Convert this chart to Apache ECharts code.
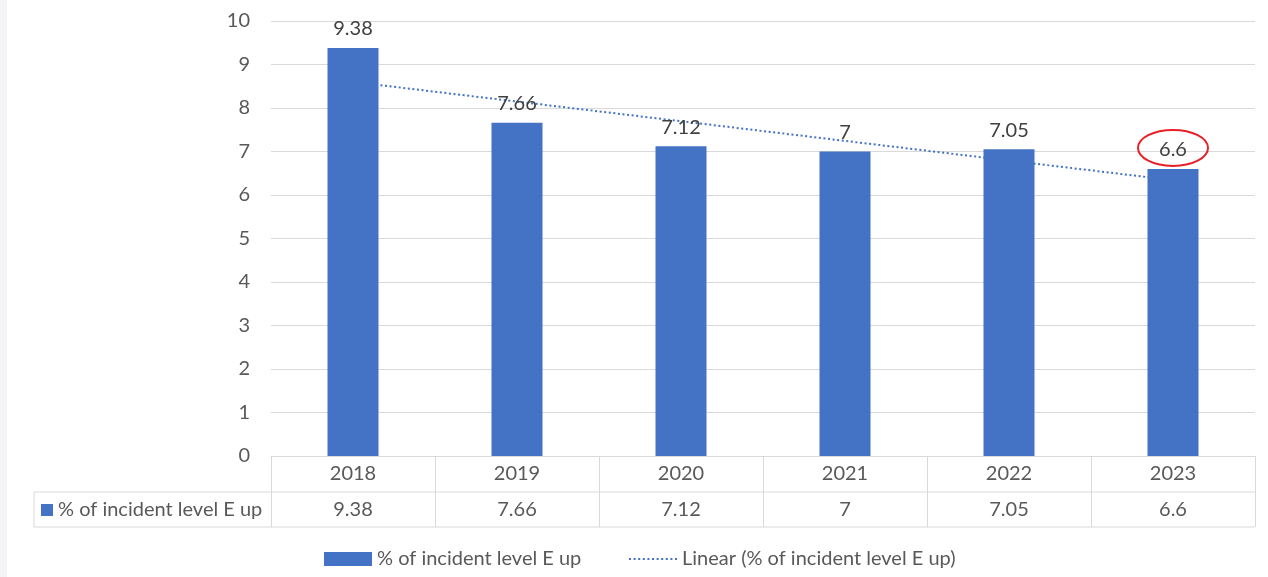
<!DOCTYPE html>
<html>
<head>
<meta charset="utf-8">
<script src="https://cdn.jsdelivr.net/npm/echarts@6/dist/echarts.min.js"></script>
<style>
  html, body { margin: 0; padding: 0; background: #fff; }
  #main { width: 1268px; height: 577px; }
</style>
</head>
<body>
<div id="main"></div>
<script>
// data
const years = ['2018', '2019', '2020', '2021', '2022', '2023']
const incidentPct = [9.38, 7.66, 7.12, 7, 7.05, 6.6]
// linear trend, only the two ends were read (middle left empty, joined straight)
const trendPct = [8.6, null, null, null, null, 6.34]
const yTicks = { min: 0, max: 10, interval: 1 }

const barName = '% of incident level E up'
const trendName = 'Linear (% of incident level E up)'
const blue = '#4472C4'
const gridC = '#d9d9d9'
const font = 'Lato, "Open Sans", sans-serif'
const fs = 20

const chart = echarts.init(document.getElementById('main'))

const option = {
  backgroundColor: '#fff',
  animation: false,
  textStyle: { fontFamily: font },
  grid: { left: 271, right: 13, top: 21, bottom: 121 },
  legend: [{
    data: [barName],
    left: 324, top: 549, padding: 0,
    itemWidth: 48, itemHeight: 14,
    icon: 'rect',
    textStyle: { fontSize: fs, color: '#595959', fontFamily: font }
  }, {
    data: [trendName],
    left: 628, top: 549, padding: 0,
    itemWidth: 48, itemHeight: 14,
    itemStyle: { opacity: 0 },
    textStyle: { fontSize: fs, color: '#595959', fontFamily: font }
  }],
  xAxis: [{
    type: 'category',
    data: years,
    axisLine: { show: true, lineStyle: { color: gridC, width: 1 } },
    axisTick: { show: true, length: 71, lineStyle: { color: gridC, width: 1 } },
    axisLabel: { margin: 8, fontSize: fs, color: '#595959', fontFamily: font }
  }, {
    // second row of the data table: the values
    type: 'category',
    position: 'bottom',
    offset: 36,
    data: incidentPct.map(v => String(v)),
    axisLine: { show: false },
    axisTick: { show: false },
    axisLabel: { margin: 8, fontSize: fs, color: '#595959', fontFamily: font }
  }],
  yAxis: {
    type: 'value',
    min: yTicks.min, max: yTicks.max, interval: yTicks.interval,
    axisLine: { show: false },
    axisTick: { show: false },
    axisLabel: { margin: 21, fontSize: fs, color: '#595959', fontFamily: font },
    splitLine: { lineStyle: { color: gridC, width: 1 } }
  },
  series: [{
    name: barName,
    type: 'bar',
    data: incidentPct,
    barWidth: 51,
    z: 3,
    itemStyle: { color: blue },
    label: {
      show: true, position: 'top', distance: 9,
      fontSize: fs, color: '#404040', fontFamily: font
    }
  }, {
    name: trendName,
    type: 'line',
    data: trendPct,
    connectNulls: true,
    symbol: 'none',
    z: 2,
    itemStyle: { color: blue },
    lineStyle: { color: blue, width: 2, type: [2, 2.6] }
  }]
}
chart.setOption(option)

// table borders, key and the red ring round the last label
const tl = 34, tr = 1255, r1 = 492, r2 = 527
const last = chart.convertToPixel({ seriesIndex: 0 }, [years.length - 1, incidentPct[incidentPct.length - 1]])
chart.setOption({
  graphic: [
    { type: 'rect', shape: { x: 0, y: 0, width: 7, height: 577 }, style: { fill: '#f3f4f6' }, silent: true },
    { type: 'line', shape: { x1: tl, y1: r1, x2: tr, y2: r1 }, style: { stroke: gridC, lineWidth: 1 } },
    { type: 'line', shape: { x1: tl, y1: r2, x2: tr, y2: r2 }, style: { stroke: gridC, lineWidth: 1 } },
    { type: 'line', shape: { x1: tl, y1: r1, x2: tl, y2: r2 }, style: { stroke: gridC, lineWidth: 1 } },
    { type: 'rect', shape: { x: 41, y: 504, width: 12, height: 12 }, style: { fill: blue } },
    {
      type: 'text', x: 58, y: 510,
      style: { text: barName, fontSize: fs, fill: '#595959', fontFamily: font, verticalAlign: 'middle' }
    },
    {
      type: 'ellipse', z: 10,
      shape: { cx: last[0], cy: last[1] - 21, rx: 35, ry: 18 },
      style: { fill: 'none', stroke: '#e8202a', lineWidth: 2 }
    }
  ]
})
</script>
</body>
</html>
